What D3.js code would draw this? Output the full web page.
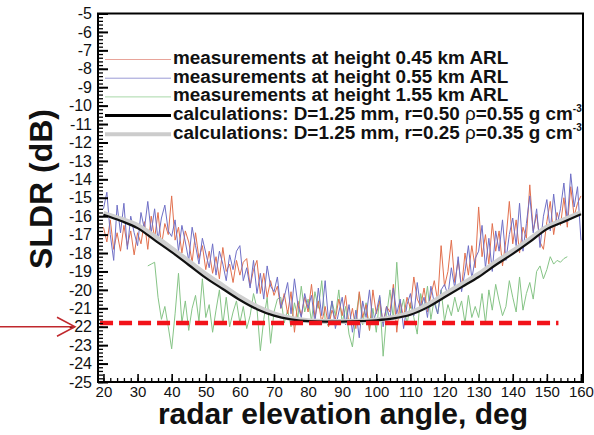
<!DOCTYPE html>
<html>
<head>
<meta charset="utf-8">
<script src="https://cdn.jsdelivr.net/npm/d3@7"></script>
<style>
  html, body { margin: 0; padding: 0; background: #fff; }
  svg { display: block; font-family: "Liberation Sans", Arial, Helvetica, sans-serif; }
</style>
</head>
<body>
<svg id="chart" width="594" height="435"></svg>
<script>
// ---------- data ----------
const measStart = 20;            // first angle of red / blue series (deg), 1-deg step
const red045 = [
  -16.6,-17.4,-16.2,-17.8,-16.9,-17.9,-16.5,-17.6,-16.8,-18.1,
  -16.9,-17.5,-16.3,-17.8,-16.0,-17.2,-15.8,-17.6,-16.4,-17.0,
  -14.9,-17.3,-16.6,-18.0,-16.8,-17.4,-18.5,-16.9,-18.3,-17.6,
  -18.9,-17.9,-19.1,-18.2,-19.4,-17.7,-19.0,-18.6,-19.6,-18.4,
  -19.2,-18.5,-18.3,-19.8,-18.9,-18.4,-20.2,-19.1,-20.4,-19.5,
  -20.3,-19.8,-21.0,-20.2,-21.3,-20.1,-22.3,-20.6,-21.4,-20.4,
  -21.2,-19.7,-21.5,-20.6,-21.8,-20.9,-22.0,-21.1,-21.6,-20.5,
  -21.4,-20.3,-21.9,-21.0,-22.1,-20.1,-21.5,-20.8,-22.2,-20.0,
  -21.3,-20.6,-21.8,-20.9,-21.2,-19.7,-22.3,-20.6,-21.5,-20.4,
  -21.0,-19.3,-20.5,-20.9,-19.9,-21.2,-20.3,-19.5,-20.6,-17.6,
  -19.8,-19.0,-17.3,-19.6,-18.4,-19.9,-18.0,-19.2,-17.6,-18.8,
  -15.5,-18.2,-17.0,-18.6,-16.4,-17.9,-16.8,-18.7,-17.3,-15.2,
  -17.5,-16.2,-18.0,-16.6,-17.2,-14.3,-16.8,-15.9,-17.4,-17.8,
  -16.3,-15.2,-17.0,-15.8,-16.5,-15.0,-16.6,-14.4,-16.0,-15.3,
  -14.9
];
const blue055 = [
  -15.6,-14.7,-17.0,-18.4,-15.4,-16.9,-15.3,-17.8,-16.0,-16.9,
  -17.6,-15.8,-16.7,-15.2,-16.9,-15.6,-17.3,-16.1,-15.4,-16.8,
  -17.1,-16.2,-17.9,-16.5,-17.4,-18.4,-16.6,-17.6,-18.6,-17.2,
  -18.0,-18.8,-17.5,-19.2,-17.9,-18.6,-19.5,-18.1,-18.9,-17.9,
  -17.6,-19.5,-18.8,-19.9,-18.4,-20.2,-19.1,-20.5,-18.7,-19.8,
  -20.1,-19.3,-21.0,-20.4,-19.6,-21.3,-19.4,-20.8,-21.5,-20.2,
  -21.0,-20.3,-21.8,-19.9,-21.4,-19.5,-21.7,-20.6,-22.1,-21.2,
  -20.4,-21.9,-20.8,-22.3,-21.1,-22.6,-20.6,-21.5,-20.0,-21.8,
  -21.2,-20.3,-22.0,-20.9,-21.6,-19.9,-21.3,-20.5,-22.1,-20.8,
  -20.2,-21.4,-19.6,-21.0,-20.4,-21.5,-19.8,-20.7,-21.3,-20.0,
  -19.7,-20.3,-18.8,-19.9,-18.2,-20.1,-19.0,-17.6,-19.4,-18.3,
  -17.9,-16.5,-18.8,-17.2,-19.0,-16.8,-17.9,-16.2,-18.4,-17.0,
  -16.1,-17.6,-15.3,-17.9,-16.4,-14.9,-16.9,-15.6,-17.7,-16.0,
  -15.1,-16.8,-14.8,-16.5,-15.6,-14.2,-16.3,-13.7,-15.5,-14.4,
  -17.3
];
const greenStart = 33;           // first angle of green series (deg), 1-deg step
const green155 = [
  -18.7,-18.6,-18.5,-20.4,-21.6,-20.9,-22.0,
  -23.2,-21.3,-19.1,-21.8,-20.6,-22.2,-21.0,-20.3,-21.7,-19.4,
  -21.5,-20.8,-22.3,-21.1,-20.0,-21.9,-20.4,-22.0,-21.2,-20.6,
  -21.8,-20.9,-22.1,-21.4,-20.2,-21.0,-23.3,-21.6,-20.4,-22.9,
  -21.2,-20.5,-20.4,-21.8,-21.1,-22.0,-20.7,-21.5,-19.8,-21.2,
  -20.5,-21.7,-20.1,-21.0,-19.5,-21.6,-22.0,-20.6,-21.4,-20.0,
  -21.8,-20.9,-22.4,-23.1,-21.5,-20.2,-21.9,-20.7,-22.2,-21.0,
  -22.3,-20.4,-23.6,-21.4,-20.0,-21.6,-18.5,-21.3,-20.5,-21.9,
  -20.7,-21.5,-22.4,-20.2,-21.1,-19.8,-21.6,-20.5,-21.3,-20.0,
  -21.7,-20.8,-21.4,-20.4,-21.2,-20.6,-21.8,-20.3,-21.5,-20.9,
  -21.5,-20.2,-21.8,-20.0,-21.1,-19.7,-20.6,-21.4,-20.9,-19.5,
  -20.4,-21.2,-19.3,-21.1,-20.2,-19.6,-20.5,-19.0,-18.7,-19.4,
  -18.9,-18.2,-18.6,-18.4,-18.5,-18.3,-18.2
];
const calcAngles = [20,25,30,35,40,45,50,55,60,65,70,75,80,85,90,95,100,105,110,115,120,125,130,135,140,145,150,155,160];
const calcBlack = [-15.92,-16.25,-16.65,-17.3,-17.95,-18.65,-19.35,-19.95,-20.55,-21.05,-21.4,-21.6,-21.7,-21.72,-21.72,-21.7,-21.65,-21.55,-21.35,-20.95,-20.4,-19.85,-19.3,-18.65,-18.05,-17.4,-16.7,-16.3,-15.9];
const calcGray  = [-15.85,-16.15,-16.5,-17.1,-17.75,-18.45,-19.15,-19.78,-20.4,-20.92,-21.3,-21.55,-21.68,-21.72,-21.72,-21.7,-21.63,-21.5,-21.25,-20.82,-20.25,-19.7,-19.15,-18.5,-17.9,-17.25,-16.6,-16.2,-15.8];
const refLevel = -21.8;          // dashed reference level
const refFrom = 19, refTo = 153.4;
const xTicks = [20,30,40,50,60,70,80,90,100,110,120,130,140,150,160];
const yTicks = [-25,-24,-23,-22,-21,-20,-19,-18,-17,-16,-15,-14,-13,-12,-11,-10,-9,-8,-7,-6,-5];
const legendLabels = [
  "measurements at height 0.45 km ARL",
  "measurements at height 0.55 km ARL",
  "measurements at height 1.55 km ARL",
  "calculations: D=1.25 mm, r=0.50 ",
  "calculations: D=1.25 mm, r=0.25 "
];
const legendRho = [null, null, null, "=0.55 g cm", "=0.35 g cm"];

// ---------- layout ----------
const L = 98, R = 583, T = 13.5, B = 382;
const svg = d3.select("#chart");
const x = d3.scaleLinear().domain([18.4, 160.6]).range([L, R]);
const y = d3.scaleLinear().domain([-25, -5]).range([B, T]);

const seriesStyle = [
  {data: red045, start: measStart, color: "#e2704e", w: 1},
  {data: blue055, start: measStart, color: "#6f6fc6", w: 1},
  {data: green155, start: greenStart, color: "#86c486", w: 1}
];

const plot = svg.append("g");
const line = d3.line().x(d => x(d[0])).y(d => y(d[1]));

// measurement series (green under others)
[2, 0, 1].forEach(i => {
  const s = seriesStyle[i];
  plot.append("path")
    .datum(s.data.map((v, k) => [s.start + k, v]))
    .attr("fill", "none").attr("stroke", s.color).attr("stroke-width", s.w)
    .attr("stroke-linejoin", "round").attr("d", line);
});

const smooth = d3.line().x(d => x(d[0])).y(d => y(d[1])).curve(d3.curveMonotoneX);
plot.append("path").datum(calcAngles.map((a, k) => [a, calcGray[k]]))
  .attr("fill", "none").attr("stroke", "#cfcfcf").attr("stroke-width", 5).attr("d", smooth);
plot.append("path").datum(calcAngles.map((a, k) => [a, calcBlack[k]]))
  .attr("fill", "none").attr("stroke", "#111").attr("stroke-width", 2.2).attr("d", smooth);

// dashed reference line
plot.append("line")
  .attr("x1", x(refFrom)).attr("x2", x(refTo))
  .attr("y1", y(refLevel)).attr("y2", y(refLevel))
  .attr("stroke", "#f2131a").attr("stroke-width", 4.5)
  .attr("stroke-dasharray", "13,6");

// ---------- axes ----------
const fmt = d => String(d);      // plain hyphen-minus like the original
const yMinor = d3.range(-25, -4.99, 0.2).map(v => +v.toFixed(1));
const xMinor = d3.range(20, 161, 2);

const yAxisMinor = svg.append("g").attr("transform", `translate(${L},0)`)
  .call(d3.axisLeft(y).tickValues(yMinor).tickSize(-5).tickFormat(""));
const yAxis = svg.append("g").attr("transform", `translate(${L},0)`)
  .call(d3.axisLeft(y).tickValues(yTicks).tickSize(-10).tickPadding(6).tickFormat(fmt));
const xAxisMinor = svg.append("g").attr("transform", `translate(0,${B})`)
  .call(d3.axisBottom(x).tickValues(xMinor).tickSize(-4).tickFormat(""));
const xAxis = svg.append("g").attr("transform", `translate(0,${B})`)
  .call(d3.axisBottom(x).tickValues(xTicks).tickSize(-8).tickPadding(4.5).tickFormat(fmt));

[yAxisMinor, yAxis, xAxisMinor, xAxis].forEach(g => {
  g.select(".domain").remove();
  g.selectAll("line").attr("stroke", "#000").attr("stroke-width", 1.3);
  g.selectAll("text").attr("fill", "#111")
    .style("font-family", "'Liberation Sans', Arial, sans-serif");
});
yAxis.selectAll("text").style("font-size", "16px");
xAxis.selectAll("text").style("font-size", "15px");
yAxis.selectAll("line").attr("stroke-width", 2);
xAxis.selectAll("line").attr("stroke-width", 1.6);

// frame
svg.append("rect").attr("x", L).attr("y", T).attr("width", R - L).attr("height", B - T)
  .attr("fill", "none").attr("stroke", "#000").attr("stroke-width", 2);

// axis titles
svg.append("text").attr("x", 343).attr("y", 424).attr("text-anchor", "middle")
  .style("font-size", "30px").style("font-weight", "bold").attr("fill", "#111")
  .text("radar elevation angle, deg");
svg.append("text").attr("transform", "translate(52,189) rotate(-90)").attr("text-anchor", "middle")
  .style("font-size", "32px").style("font-weight", "bold").attr("fill", "#111")
  .text("SLDR (dB)");

// ---------- legend ----------
const legStyle = [
  {color: "#e8a49a", w: 1},
  {color: "#9a9ad6", w: 1},
  {color: "#a8d8a8", w: 1},
  {color: "#000", w: 3},
  {color: "#cccccc", w: 4}
];
const legRows = [59.5, 78.2, 96.9, 115.6, 134.3];
const leg = svg.append("g");
legendLabels.forEach((lab, i) => {
  const ry = legRows[i];
  leg.append("line").attr("x1", 105).attr("x2", 171).attr("y1", ry).attr("y2", ry)
    .attr("stroke", legStyle[i].color).attr("stroke-width", legStyle[i].w);
  const t = leg.append("text").attr("x", 173).attr("y", ry + 4.5)
    .style("font-size", "18.9px").style("font-weight", "bold").attr("fill", "#111");
  t.append("tspan").text(lab);
  if (legendRho[i]) {
    t.append("tspan").style("font-weight", "normal").text("\u03C1");
    t.append("tspan").text(legendRho[i]);
    t.append("tspan").attr("dy", -8).style("font-size", "10px").text("-3");
  }
});

// ---------- annotation arrow ----------
const ay = y(-22);
svg.append("line").attr("x1", 0).attr("x2", 75).attr("y1", ay).attr("y2", ay)
  .attr("stroke", "#c0282d").attr("stroke-width", 1.5);
svg.append("path").attr("d", `M57,${ay - 9.5} L75,${ay} L57,${ay + 9.5}`)
  .attr("fill", "none").attr("stroke", "#c0282d").attr("stroke-width", 1.5);
</script>
</body>
</html>
